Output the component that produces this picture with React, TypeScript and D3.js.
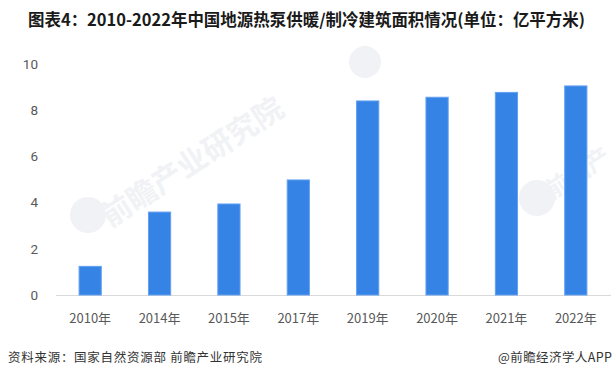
import React from "react";
import * as d3 from "d3";

const categories = ["2010年", "2014年", "2015年", "2017年", "2019年", "2020年", "2021年", "2022年"];
const values = [1.24, 3.59, 3.94, 4.98, 8.4, 8.56, 8.77, 9.05];
const yTicks = [0, 2, 4, 6, 8, 10];
const title = "图表4：2010-2022年中国地源热泵供暖/制冷建筑面积情况(单位：亿平方米)";
const source = "资料来源：国家自然资源部 前瞻产业研究院";
const brand = "@前瞻经济学人APP";
const watermark = "前瞻产业研究院";
const watermarkShort = "前瞻产";

const W = 615;
const H = 380;

export default function App() {
  const x = d3.scaleBand<string>().domain(categories).range([55.5, 610.5]).paddingInner(0.68).paddingOuter(0.34);
  const y = d3.scaleLinear().domain([0, 10]).range([295, 64]);
  const font = "'Noto Sans CJK SC', 'Noto Sans', sans-serif";
  const wm = "#f1f2f5";
  return (
    <svg width={W} height={H} style={{ position: "fixed", left: 0, top: 0, background: "#fff" }} fontFamily={font}>
      <rect x={0} y={0} width={W} height={H} fill="#fff" />
      {/* faint watermarks */}
      <g fill={wm}>
        <circle cx={88} cy={215} r={18} />
        <text x={110} y={228} fontSize={30} fontWeight="bold" transform="rotate(-33 110 228)">{watermark}</text>
        <circle cx={365} cy={62} r={16} />
        <circle cx={537} cy={198} r={18} />
        <text x={552} y={200} fontSize={24} fontWeight="bold" transform="rotate(-33 552 200)">{watermarkShort}</text>
      </g>
      <text x={28} y={26} fontSize={16.5} fontWeight="bold" fill="#1a1a1a" textLength={557} lengthAdjust="spacingAndGlyphs">
        {title}
      </text>
      {yTicks.map((t) => (
        <text key={t} x={38} y={y(t)} dy="0.35em" textAnchor="end" fontSize={13.5} fill="#595959" fontFamily="Roboto, 'Noto Sans', sans-serif">
          {t}
        </text>
      ))}
      <line x1={56} x2={611} y1={y(0) + 0.5} y2={y(0) + 0.5} stroke="#d9d9d9" strokeWidth={1} />
      {categories.map((c, i) => (
        <rect
          key={c}
          x={x(c)!}
          y={y(values[i])}
          width={x.bandwidth()}
          height={y(0) - y(values[i])}
          fill="#3683e6"
          stroke="#62a0f0"
          strokeWidth={1}
        />
      ))}
      {categories.map((c) => (
        <text key={c} x={x(c)! + x.bandwidth() / 2} y={318} dy="0.35em" textAnchor="middle" fontSize={13} fill="#595959">
          {c}
        </text>
      ))}
      <text x={8} y={358} dy="0.35em" fontSize={12.5} fill="#333" textLength={254} lengthAdjust="spacing">
        {source}
      </text>
      <text x={612} y={358} dy="0.35em" textAnchor="end" fontSize={12.5} fill="#333" textLength={114} lengthAdjust="spacing">
        {brand}
      </text>
    </svg>
  );
}
